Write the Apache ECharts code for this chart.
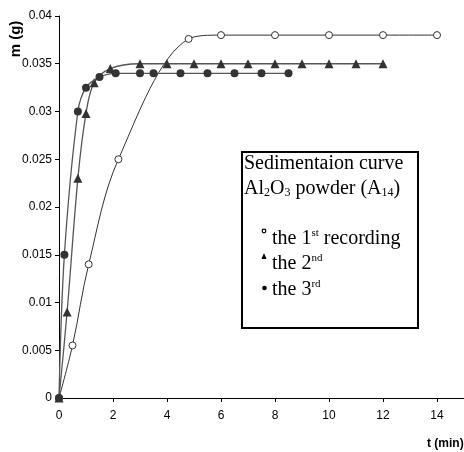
<!DOCTYPE html>
<html><head><meta charset="utf-8">
<script src="https://cdn.jsdelivr.net/npm/echarts@6/dist/echarts.min.js"></script>
<style>html,body{margin:0;padding:0;background:#fff}#c{width:464px;height:452px}</style>
</head><body><div id="c"></div>
<script>
// 1st recording (open circles)
var t1 = [0, 0.5, 1.1, 2.2, 4.8, 6, 8, 10, 12, 14];
var m1 = [0, 0.0055, 0.014, 0.025, 0.0376, 0.038, 0.038, 0.038, 0.038, 0.038];
// 2nd recording (triangles)
var t2 = [0, 0.3, 0.7, 1, 1.3, 1.9, 3, 4, 5, 6, 7, 8, 9, 10, 11, 12];
var m2 = [0, 0.009, 0.023, 0.0298, 0.033, 0.0345, 0.035, 0.035, 0.035, 0.035, 0.035, 0.035, 0.035, 0.035, 0.035, 0.035];
// 3rd recording (filled circles)
var t3 = [0, 0.2, 0.7, 1, 1.5, 2.1, 3, 3.5, 4.5, 5.5, 6.5, 7.5, 8.5];
var m3 = [0, 0.015, 0.03, 0.0325, 0.0336, 0.034, 0.034, 0.034, 0.034, 0.034, 0.034, 0.034, 0.034];
var xTicks = [0, 2, 4, 6, 8, 10, 12, 14];
var yTicks = [0, 0.005, 0.01, 0.015, 0.02, 0.025, 0.03, 0.035, 0.04];

function pairs(t, m) { return t.map(function (v, i) { return [v, m[i]]; }); }

var chart = echarts.init(document.getElementById('c'), null, {renderer: 'canvas'});
var axisFont = {fontFamily: 'Liberation Sans, Arial, sans-serif', fontSize: 12, color: '#000'};
var serif = 'Liberation Serif, Times New Roman, serif';
var supStyle = {fontSize: 11, fontFamily: 'Liberation Serif', padding: [0, 0, 12, 0], verticalAlign: 'bottom'};
var subStyle = {fontSize: 12, fontFamily: 'Liberation Serif', padding: [7, 0, 0, 0], verticalAlign: 'bottom'};
chart.setOption({
  animation: false,
  backgroundColor: '#fff',
  grid: {left: 59, top: 16, width: 406, height: 382, containLabel: false},
  xAxis: {
    type: 'value', min: 0, max: 15, interval: 2,
    splitLine: {show: false},
    axisLine: {lineStyle: {color: '#000', width: 1}},
    axisTick: {show: true, inside: false, length: 4, lineStyle: {color: '#000'}},
    axisLabel: Object.assign({margin: 12, showMaxLabel: false,
      formatter: function (v) { return xTicks.indexOf(v) >= 0 ? String(v) : ''; }}, axisFont)
  },
  yAxis: {
    type: 'value', min: 0, max: 0.04, interval: 0.005,
    splitLine: {show: false},
    axisLine: {show: true, lineStyle: {color: '#000', width: 1}},
    axisTick: {show: true, inside: false, length: 4, lineStyle: {color: '#000'}},
    axisLabel: Object.assign({margin: 7,
      formatter: function (v) { return String(+v.toFixed(3)); }}, axisFont)
  },
  series: [
    {name: '1st', type: 'line', data: pairs(t1, m1), smooth: 0.35,
     symbol: 'circle', symbolSize: 7, lineStyle: {color: '#333', width: 1},
     itemStyle: {color: '#fff', borderColor: '#333', borderWidth: 1}, z: 3},
    {name: '2nd', type: 'line', data: pairs(t2, m2), smooth: 0.35,
     symbol: 'triangle', symbolSize: 9, lineStyle: {color: '#555', width: 1.3},
     itemStyle: {color: '#333', borderWidth: 0}, z: 4},
    {name: '3rd', type: 'line', data: pairs(t3, m3), smooth: 0.35,
     symbol: 'circle', symbolSize: 8, lineStyle: {color: '#555', width: 1.3},
     itemStyle: {color: '#333', borderWidth: 0}, z: 5}
  ],
  graphic: [
    {type: 'text', x: 16, y: 39, rotation: Math.PI / 2, style: {text: 'm (g)', font: 'bold 15px Liberation Sans, Arial, sans-serif', fill: '#000', align: 'center', verticalAlign: 'middle'}},
    {type: 'text', x: 427, y: 444, style: {text: 't (min)', font: 'bold 12px Liberation Sans, Arial, sans-serif', fill: '#000', align: 'left', verticalAlign: 'middle'}},
    {type: 'rect', shape: {x: 242, y: 152, width: 176, height: 176}, style: {fill: '#fff', stroke: '#000', lineWidth: 2}, z: 10},
    {type: 'text', x: 244, y: 164, z: 11, style: {text: 'Sedimentaion curve', font: '20px ' + serif, fill: '#000', verticalAlign: 'middle'}},
    {type: 'text', x: 244, y: 189, z: 11, style: {
      text: 'Al{sub|2}O{sub|3} powder (A{sub|14})',
      font: '20px ' + serif, fill: '#000', verticalAlign: 'middle',
      rich: {sub: subStyle}}},
    {type: 'text', x: 272, y: 239, z: 11, style: {
      text: 'the 1{sup|st} recording', font: '20px ' + serif, fill: '#000', verticalAlign: 'middle',
      rich: {sup: supStyle}}},
    {type: 'text', x: 272, y: 264, z: 11, style: {
      text: 'the 2{sup|nd}', font: '20px ' + serif, fill: '#000', verticalAlign: 'middle',
      rich: {sup: supStyle}}},
    {type: 'text', x: 272, y: 290, z: 11, style: {
      text: 'the 3{sup|rd}', font: '20px ' + serif, fill: '#000', verticalAlign: 'middle',
      rich: {sup: supStyle}}},
    {type: 'circle', shape: {cx: 264, cy: 231, r: 1.8}, style: {fill: '#fff', stroke: '#000', lineWidth: 1.2}, z: 11},
    {type: 'polygon', shape: {points: [[264, 253], [261.5, 259], [266.5, 259]]}, style: {fill: '#000'}, z: 11},
    {type: 'circle', shape: {cx: 264.5, cy: 288, r: 2.3}, style: {fill: '#000'}, z: 11}
  ]
});
</script></body></html>
